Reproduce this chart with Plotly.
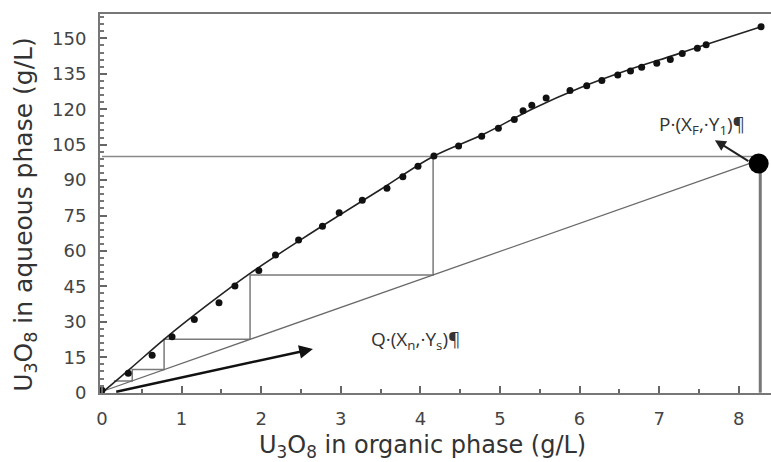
import plotly.graph_objects as go

# Equilibrium data points (organic g/L, aqueous g/L)
eq_x = [0.0, 0.33, 0.63, 0.88, 1.16, 1.47, 1.67, 1.97, 2.18, 2.47, 2.77, 2.98, 3.27,
        3.58, 3.78, 3.97, 4.17, 4.48, 4.77, 4.98, 5.18, 5.29, 5.40, 5.58, 5.88, 6.09,
        6.28, 6.48, 6.64, 6.78, 6.97, 7.14, 7.29, 7.48, 7.59, 8.28]
eq_y = [1.0, 8.2, 15.9, 23.7, 31.0, 38.1, 45.2, 51.7, 58.3, 64.6, 70.5, 76.2, 81.5,
        86.5, 91.4, 95.9, 100.2, 104.4, 108.5, 111.9, 115.6, 119.3, 121.7, 124.7, 127.9, 129.9,
        132.2, 134.5, 136.2, 137.8, 139.4, 141.0, 143.6, 145.8, 147.3, 154.9]

# Fitted equilibrium curve
fit_x = [0.0, 0.36, 0.78, 1.30, 1.86, 2.50, 3.00, 3.50, 4.16, 4.80, 5.40, 6.00, 6.60, 7.20, 7.60, 8.29]
fit_y = [0.0, 10.3, 22.6, 36.5, 50.5, 64.8, 75.5, 86.0, 100.0, 109.5, 120.0, 129.0, 136.5, 143.0, 147.5, 155.0]

# Operating line
op_x = [0.0, 8.22]
op_y = [0.5, 98.0]

# Feed line (horizontal at Y1) and stage construction
feed_x = [0.0, 8.25]
feed_y = [100.0, 100.0]
stair_x = [4.16, 4.16, 1.86, 1.86, 0.78, 0.78, 0.38, 0.38, 0.15]
stair_y = [100.0, 49.8, 49.8, 22.6, 22.6, 9.8, 9.8, 5.0, 5.0]

# Point P and vertical drop line
p_x = [8.25]
p_y = [97.0]
drop_x = [8.27, 8.27]
drop_y = [97.0, 0.0]

x_ticks = [0, 1, 2, 3, 4, 5, 6, 7, 8]
y_ticks = [0, 15, 30, 45, 60, 75, 90, 105, 120, 135, 150]

fig = go.Figure()

fig.add_trace(go.Scatter(x=feed_x, y=feed_y, mode="lines",
                         line=dict(color="#8a8a8a", width=1.5), hoverinfo="skip"))
fig.add_trace(go.Scatter(x=stair_x, y=stair_y, mode="lines",
                         line=dict(color="#7a7a7a", width=1.5), hoverinfo="skip"))
fig.add_trace(go.Scatter(x=op_x, y=op_y, mode="lines",
                         line=dict(color="#6a6a6a", width=1.3), hoverinfo="skip"))
fig.add_trace(go.Scatter(x=drop_x, y=drop_y, mode="lines",
                         line=dict(color="#777777", width=3), hoverinfo="skip"))
fig.add_trace(go.Scatter(x=fit_x, y=fit_y, mode="lines", line_shape="spline",
                         line=dict(color="#222222", width=1.6), hoverinfo="skip"))
fig.add_trace(go.Scatter(x=eq_x, y=eq_y, mode="markers",
                         marker=dict(color="#111111", size=7)))
fig.add_trace(go.Scatter(x=p_x, y=p_y, mode="markers",
                         marker=dict(color="#000000", size=20)))

tickfont = dict(family="DejaVu Sans", size=18, color="#444444")
titlefont = dict(family="DejaVu Sans", size=24, color="#333333")
ytitlefont = dict(family="DejaVu Sans", size=25, color="#333333")
notefont = dict(family="Open Sans", size=19, color="#333333")

fig.update_layout(
    width=771, height=462,
    margin=dict(l=100, r=0, t=14, b=69),
    paper_bgcolor="white", plot_bgcolor="white",
    showlegend=False,
    xaxis=dict(range=[-0.025, 8.405], tickvals=x_ticks, ticks="inside", ticklen=7,
               tickwidth=1.5, tickcolor="#666666", showgrid=False, zeroline=False,
               showline=True, linecolor="#777777", linewidth=2, mirror=True,
               tickfont=tickfont, ticklabelstandoff=8,
               minor=dict(dtick=0.5, ticks="inside", ticklen=4, tickcolor="#666666", showgrid=False)),
    yaxis=dict(range=[-0.13, 160.3], tickvals=y_ticks, ticks="inside", ticklen=7,
               tickwidth=1.5, tickcolor="#666666", showgrid=False, zeroline=False,
               showline=True, linecolor="#777777", linewidth=2,
               tickfont=tickfont, ticklabelstandoff=8,
               minor=dict(dtick=3, ticks="inside", ticklen=4, tickcolor="#777777", showgrid=False)),
)

fig.add_annotation(x=0.48, y=0, xref="paper", yref="paper", yshift=-53,
                   text="U<sub>3</sub>O<sub>8</sub> in organic phase (g/L)",
                   showarrow=False, font=titlefont, xanchor="center", yanchor="middle")
fig.add_annotation(x=0, y=0.47, xref="paper", yref="paper", xshift=-75,
                   text="U<sub>3</sub>O<sub>8</sub> in aqueous phase (g/L)", textangle=-90,
                   showarrow=False, font=ytitlefont, xanchor="center", yanchor="middle")

# Arrows
fig.add_annotation(x=2.65, y=18.5, ax=0.16, ay=0.3, xref="x", yref="y", axref="x", ayref="y",
                   showarrow=True, arrowhead=2, arrowsize=1.1, arrowwidth=2.5, arrowcolor="#111111",
                   text="")
fig.add_annotation(x=7.70, y=106.9, ax=8.14, ay=97.6, xref="x", yref="y", axref="x", ayref="y",
                   showarrow=True, arrowhead=2, arrowsize=1.1, arrowwidth=2, arrowcolor="#222222",
                   text="")

fig.add_annotation(x=3.94, y=22.3, xref="x", yref="y", showarrow=False,
                   text="Q·(X<sub>n</sub>,·Y<sub>s</sub>)¶", font=notefont)
fig.add_annotation(x=7.54, y=113.2, xref="x", yref="y", showarrow=False,
                   text="P·(X<sub>F</sub>,·Y<sub>1</sub>)¶", font=notefont)

fig.write_html("out.html")
